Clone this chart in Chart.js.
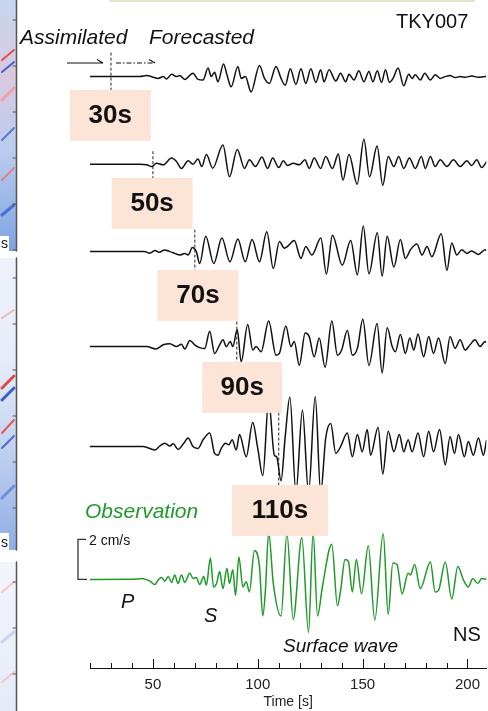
<!DOCTYPE html>
<html lang="en">
<head>
    <meta charset="UTF-8">
    <script src="https://cdn.jsdelivr.net/npm/chart.js"></script>
    <title>TKY007 NS</title>
    <style>
        body { margin: 0; background: #fff; }
        canvas { display: block; }
    </style>
</head>
<body>
<canvas id="grafico" width="488" height="711"></canvas>
<script>
    // [time s, velocity cm/s] at the turning points
    const trace30 = [[20,0],[42,0],[43.8,0],[47,0.05],[50.2,-0.03],[52.5,-0.09],[54.9,0],[56.5,-0.12],[58.9,0.12],[61.2,0],[62.8,0.05],[65.2,-0.14],[69.1,0.17],[71.5,-0.14],[73.9,-0.17],[76.3,0.43],[77.8,0],[79.4,0.22],[81,-0.26],[83.7,0.63],[85.3,0.09],[87.3,-0.51],[90.5,0.51],[92.1,-0.09],[94.1,0],[96.8,-0.77],[100.8,0.56],[103.2,-0.09],[105.5,-0.34],[108.7,0.51],[111.1,-0.09],[113.1,-0.43],[115.5,0.39],[118.2,-0.39],[120.6,0.39],[122.9,-0.34],[125.3,0.39],[127.7,-0.29],[130,0.34],[131.6,-0.26],[134,0.34],[137.2,-0.22],[139.5,0.17],[141.9,-0.26],[143.5,0.12],[145.9,-0.17],[148.2,0.29],[150.6,-0.26],[153,0.26],[154.9,-0.26],[157,0.29],[159,-0.29],[160.9,0.34],[162.8,-0.29],[164.5,-0.09],[166.9,0.43],[169.6,-0.46],[172,0.12],[173.6,-0.09],[175.1,0.09],[177.5,-0.17],[179.6,0.17],[182.3,-0.17],[184.6,0.09],[187,-0.09],[189.4,0],[191.7,0.05],[194.1,-0.05],[196.5,0],[198.9,-0.03],[202,0.03],[205.2,-0.03],[208.4,0],[209,0]];
    const trace50 = [[20,0],[43.8,0],[47,-0.03],[49.4,-0.12],[51.7,0.05],[54.9,-0.03],[58.9,0.31],[61.2,0.14],[63.6,-0.21],[66.8,0.17],[69.1,0],[71.5,0.26],[73.3,-0.12],[75.5,0.48],[78.5,-0.2],[83.4,0.96],[86.5,-0.63],[90.2,0.74],[93.7,-0.21],[96,0.22],[98.9,-0.12],[102,0.36],[104.7,-0.21],[107.1,0.31],[110,-0.17],[112.2,0.17],[114.2,-0.07],[116.9,0.05],[119.8,-0.03],[122.5,0.22],[124.5,-0.21],[126.9,0.31],[130,-0.21],[132.4,0.39],[135.6,-0.21],[138.4,0.51],[140.6,-0.8],[143.5,0.48],[147.4,-1.0],[150.6,1.25],[153.3,-0.63],[156.9,0.91],[159.6,-1.06],[162.2,0.39],[164.9,-0.12],[167.2,0.39],[169.6,-0.21],[172.3,0.31],[175.1,-0.21],[178,0.39],[179.9,-0.21],[182.3,0.39],[184.6,-0.12],[187,0.22],[190.2,-0.12],[193.3,0.22],[196.5,-0.12],[199.7,0.17],[202,-0.07],[204.4,0.22],[206.8,-0.17],[209.2,0.14]];
    const trace70 = [[20,0],[46,0],[48.5,-0.08],[51,0.05],[53,-0.03],[55.5,0.08],[58.1,0],[60.4,-0.09],[62.8,-0.17],[65.2,-0.09],[66.8,-0.17],[68.8,0.21],[70.7,0],[72.3,-0.6],[75.2,0.77],[79,-0.6],[82.9,0.68],[86.7,-0.51],[90.5,0.63],[94,-0.51],[97.3,0.6],[100.8,-0.51],[104.3,0.99],[107.4,-0.85],[110.3,0.51],[112.7,0.17],[114.2,0.26],[117.4,0.55],[120.6,-0.34],[122.9,0.26],[125.8,-0.17],[130.1,0.68],[132.7,-1.12],[135.6,0.82],[140.3,-0.68],[144.3,0.55],[147.5,-1.16],[150.3,1.28],[153,-1.11],[157,0.94],[159.3,-1.23],[161.7,0.77],[164.9,-0.77],[168,0.6],[170.4,-0.34],[172.8,0.09],[175.9,0.38],[178.3,-0.17],[180.7,0.26],[183,-0.26],[187.5,0.89],[190.2,-0.94],[192.5,0.43],[194.9,-0.17],[197.3,0.09],[199.7,-0.09],[202,0.03],[205.2,-0.14],[208.4,0.09],[209,0.05]];
    const trace90 = [[20,0],[47,0],[51.4,-0.12],[54.9,0.09],[58.1,0.14],[61.2,0],[63.6,0.12],[65.2,-0.12],[67.6,0.31],[69.9,0.09],[72.3,-0.05],[74.7,-0.1],[77.1,0.77],[79.4,-0.34],[81.8,0.09],[83.4,0.34],[85,0],[86.9,0.26],[88.1,0],[90.2,0.85],[92.1,-0.77],[95.2,1.11],[97.6,-0.17],[99.2,0],[101.6,-0.26],[105.2,1.28],[108.7,-0.43],[110.3,-0.34],[113.4,1.03],[115.8,0],[117.4,0.26],[119.8,-0.94],[122.6,0.68],[124.5,0.51],[126.9,-0.51],[129.3,0.43],[132.1,-1.03],[135.3,1.28],[138,-0.43],[140,-0.17],[142.7,0.8],[145.1,-0.43],[147.5,-0.09],[150.1,1.37],[153,-0.94],[156.9,1.15],[159.3,-1.32],[161.7,0.94],[164.1,0],[165.6,-0.26],[168,0.6],[170.4,-0.34],[172.5,0.43],[174.4,-0.17],[176.4,0.63],[179.1,-0.51],[181.5,0.51],[183.8,-0.34],[186.2,0.43],[189.4,-0.85],[191.7,0.51],[194.1,-0.09],[196.5,0.34],[198.9,-0.17],[201.2,0.09],[203.6,0.34],[206,0],[208.4,0.26],[209,0.2]];
    const trace110 = [[20,0],[45.4,0],[51,-0.17],[53.3,0.03],[55.7,0.17],[58.1,0.03],[59.7,0.14],[62,-0.14],[64.7,0.17],[66.8,0.43],[69.1,0],[71.5,-0.09],[73.9,0.34],[77.1,0.68],[79.4,-0.34],[81,-0.43],[82.6,-0.09],[84.6,0.17],[86.2,0.09],[87.8,0.34],[89.7,-0.17],[91.3,0.6],[94.5,-0.51],[97.6,1.2],[100,-0.09],[102.4,-1.45],[105.2,2.3],[107.9,-0.43],[109,-0.51],[111.1,-1.71],[113.1,0.51],[115.3,2.48],[118.2,-2.3],[121.3,1.83],[124.2,-2.3],[127.4,2.5],[130,-2.3],[132.4,0.43],[134.8,1.15],[137.2,-0.34],[139.5,0],[142.7,0.68],[145.1,-0.51],[147.5,0.6],[149.8,-0.26],[152.2,0.85],[153.8,-0.43],[157.4,0.97],[159.6,-1.37],[162.2,0.77],[164.9,-0.26],[167.5,0.6],[169.6,-0.26],[171.7,0.34],[173.6,-0.26],[176.4,0.68],[179.1,-0.51],[181.5,0.77],[183.8,-0.26],[186.7,0.85],[189.4,-0.91],[191.7,0.51],[193.8,-0.34],[195.7,0.6],[198.5,-0.51],[200.4,0.26],[202.8,-0.43],[205.2,0.43],[207.6,-0.43],[209.1,0.34]];
    const observed = [[20,0],[43,0.02],[44.5,0.04],[46.5,0],[48.6,-0.09],[50.9,-0.26],[52.5,-0.03],[54.1,0.09],[55.7,-0.09],[57.3,0.14],[58.9,-0.15],[60.4,0.22],[62,-0.2],[63.6,0.22],[65.2,-0.15],[67.6,0.31],[69.1,0.05],[70.7,0.09],[72.3,-0.26],[74.2,0.14],[75.5,-0.29],[77.4,1.07],[78.9,-0.38],[80.5,-0.15],[81.8,0.39],[83.4,-0.46],[85.3,0.56],[86.5,-0.2],[88.1,0.48],[89.4,-0.8],[91,1.12],[92.9,-0.38],[94.5,-0.12],[96,-0.63],[98.4,1.44],[100.8,0.65],[102.4,-1.83],[103.6,-0.63],[105.2,2.35],[107.4,-0.2],[111.1,-1.83],[113.9,2.3],[116.9,-2.0],[121,2.1],[124.2,-2.65],[126.4,2.35],[128.5,-1.83],[130.8,-0.38],[135.3,1.76],[138,-1.32],[139.5,-0.55],[141.6,1.0],[143.2,0.9],[145.1,-0.63],[147,1.0],[149.5,-0.72],[152.7,1.68],[155.8,-2.04],[159.8,2.3],[162.2,-1.75],[164.4,0.82],[166.4,0.74],[168.8,-0.72],[171.7,0.31],[172.8,0.22],[174.8,0.74],[177.5,-0.46],[182.3,0.87],[184.6,-0.63],[186.2,-0.55],[189.4,0.87],[192.5,-0.98],[195.4,0.65],[198.1,-0.03],[200.4,-0.38],[202.5,0.05],[204.9,-0.2],[206.8,0.05],[209.2,0]];

    const cutTimes = [30, 50, 70, 90, 110];
    const cutLabels = ['30s', '50s', '70s', '90s', '110s'];
    const tickValues = [20, 30, 40, 50, 60, 70, 80, 90, 100, 110, 120, 130, 140, 150, 160, 170, 180, 190, 200];
    const labelledTicks = [50, 100, 150, 200];
    const scaleBar = 2; // cm/s

    // vertical stacking of the traces (cm/s units on the hidden y axis)
    const traceOffsets = [29.57, 25.19, 20.82, 16.07, 11.07, 4.43];
    const cutTop = [1.2, 0.65, 1.1, 1.25, 1.7];
    const boxDx = [-0.7, -0.8, 3.1, 5.4, 1.3];
    const boxDy = [13.3, 13.7, 18.3, 15.3, 38.3];
    const boxW = [81, 81, 81, 80, 96];

    const FONT = "'Liberation Sans', Arial, sans-serif";
    const VERDE = '#1f9a2a';
    Chart.defaults.font.family = FONT;

    const series = [trace30, trace50, trace70, trace90, trace110, observed];
    const datasets = series.map((s, i) => ({
        data: s.map(p => ({ x: p[0], y: traceOffsets[i] + p[1] })),
        borderColor: i === 5 ? VERDE : '#111',
        borderWidth: 1.5,
        pointRadius: 0,
        cubicInterpolationMode: 'monotone',
        fill: false
    }));
    cutTimes.forEach((t, i) => {
        datasets.push({
            data: [{ x: t, y: traceOffsets[i] + cutTop[i] }, { x: t, y: traceOffsets[i] - 2.2 }],
            borderColor: '#222',
            borderWidth: 1,
            borderDash: [3, 2],
            pointRadius: 0
        });
    });

    function texto(ctx, s, x, y, font, cor, align) {
        ctx.font = font;
        ctx.fillStyle = cor || '#111';
        ctx.textAlign = align || 'left';
        ctx.textBaseline = 'alphabetic';
        ctx.fillText(s, x, y);
    }

    // cropped map panels on the far left
    function faixa(ctx, top, h, stops, streaks) {
        const g = ctx.createLinearGradient(0, top, 0, top + h);
        stops.forEach(s => g.addColorStop(s[0], s[1]));
        ctx.fillStyle = g;
        ctx.fillRect(0, top, 16, h);
        ctx.lineCap = 'round';
        streaks.forEach(s => {
            ctx.strokeStyle = s[2];
            ctx.lineWidth = s[3];
            ctx.beginPath();
            ctx.moveTo(2, top + s[0]);
            ctx.lineTo(14, top + s[1]);
            ctx.stroke();
        });
        ctx.strokeStyle = '#555';
        ctx.lineWidth = 1.5;
        ctx.beginPath();
        ctx.moveTo(16.5, top);
        ctx.lineTo(16.5, top + h);
        ctx.stroke();
        ctx.lineWidth = 1;
        for (let y = top + 20; y < top + h; y += 46) {
            ctx.beginPath();
            ctx.moveTo(13, y);
            ctx.lineTo(16, y);
            ctx.stroke();
        }
    }

    const decor = {
        id: 'decor',
        beforeDraw(chart) {
            const ctx = chart.ctx;
            ctx.save();
            ctx.fillStyle = '#fff';
            ctx.fillRect(0, 0, chart.width, chart.height);
            faixa(ctx, 0, 251,
                [[0, '#c7d6ef'], [0.3, '#d9c9e0'], [0.6, '#b9cdee'], [1, '#7fa3e2']],
                [[60, 50, '#e05050', 2], [72, 62, '#3f66cf', 2], [100, 88, '#f2a0a8', 3], [140, 128, '#5479d6', 2], [180, 168, '#e88080', 2], [215, 205, '#4a6fd4', 3]]);
            faixa(ctx, 258, 292,
                [[0, '#eef2fa'], [0.35, '#e6ecf8'], [0.6, '#c9d7f1'], [1, '#8eaee6']],
                [[60, 52, '#f0b8c0', 2], [130, 118, '#e04848', 3], [142, 130, '#3a5fd0', 3], [175, 162, '#e05a5a', 2], [190, 178, '#4b6ed2', 2], [240, 228, '#6d8fdc', 3]]);
            faixa(ctx, 562, 149,
                [[0, '#f3f5fb'], [0.5, '#ecf0f9'], [1, '#e4ebf7']],
                [[30, 20, '#f3c8cc', 2], [80, 70, '#c8d6f2', 3], [120, 110, '#f0c6cc', 2]]);
            [[236, 251], [533, 550]].forEach(r => {
                ctx.fillStyle = '#fff';
                ctx.fillRect(0, r[0], 9, r[1] - r[0]);
                texto(ctx, 's', 1, r[1] - 3, '14px ' + FONT, '#111');
            });
            ctx.strokeStyle = '#e6e3cc';
            ctx.lineWidth = 2;
            ctx.beginPath();
            ctx.moveTo(110, 1);
            ctx.lineTo(474, 1);
            ctx.stroke();
            ctx.restore();
        },
        afterDatasetsDraw(chart) {
            const ctx = chart.ctx;
            const xs = chart.scales.x, ys = chart.scales.y;
            ctx.save();
            // time labels covering the traces
            cutTimes.forEach((t, i) => {
                const cx = xs.getPixelForValue(t) + boxDx[i];
                const top = ys.getPixelForValue(traceOffsets[i]) + boxDy[i];
                ctx.fillStyle = '#fce4d6';
                ctx.fillRect(cx - boxW[i] / 2, top, boxW[i], 51);
                ctx.font = 'bold 26px ' + FONT;
                ctx.fillStyle = '#111';
                ctx.textAlign = 'center';
                ctx.textBaseline = 'middle';
                ctx.fillText(cutLabels[i], cx, top + 26);
            });
            // inward tick marks on the time axis
            const base = chart.chartArea.bottom;
            ctx.strokeStyle = '#111';
            ctx.lineWidth = 1;
            tickValues.forEach(v => {
                const x = Math.round(xs.getPixelForValue(v)) + 0.5;
                ctx.beginPath();
                ctx.moveTo(x, base);
                ctx.lineTo(x, base - (labelledTicks.includes(v) ? 9 : 5));
                ctx.stroke();
            });
            // arrows for assimilated / forecasted
            ctx.lineWidth = 1.1;
            ctx.beginPath();
            ctx.moveTo(67, 63); ctx.lineTo(103, 63);
            ctx.moveTo(97, 59.5); ctx.lineTo(103, 63);
            ctx.stroke();
            ctx.setLineDash([5, 2, 1.5, 2]);
            ctx.beginPath();
            ctx.moveTo(116, 63); ctx.lineTo(154, 63);
            ctx.stroke();
            ctx.setLineDash([]);
            ctx.beginPath();
            ctx.moveTo(149, 59.5); ctx.lineTo(155, 63);
            ctx.stroke();
            // 2 cm/s bracket
            const y0 = ys.getPixelForValue(traceOffsets[5]);
            const y1 = ys.getPixelForValue(traceOffsets[5] + scaleBar);
            ctx.strokeStyle = '#333';
            ctx.lineWidth = 1.3;
            ctx.beginPath();
            ctx.moveTo(86, y1); ctx.lineTo(78, y1); ctx.lineTo(78, y0); ctx.lineTo(87, y0);
            ctx.stroke();
            texto(ctx, scaleBar + ' cm/s', 89, y1 + 6, '14px ' + FONT, '#111');
            // annotations
            texto(ctx, 'Assimilated', 20, 43.5, 'italic 21px ' + FONT);
            texto(ctx, 'Forecasted', 149, 43.5, 'italic 21px ' + FONT);
            texto(ctx, 'TKY007', 396, 28, '20px ' + FONT);
            texto(ctx, 'Observation', 85, 518, 'italic 21px ' + FONT, VERDE);
            texto(ctx, 'P', 121, 608, 'italic 20px ' + FONT);
            texto(ctx, 'S', 204, 622, 'italic 20px ' + FONT);
            texto(ctx, 'Surface wave', 283, 652, 'italic 19px ' + FONT);
            texto(ctx, 'NS', 453, 641, '20px ' + FONT);
            ctx.restore();
        }
    };

    new Chart(document.getElementById('grafico'), {
        type: 'line',
        data: { datasets: datasets },
        options: {
            responsive: false,
            animation: false,
            layout: { padding: { left: 90, right: 0, top: 0, bottom: 0 } },
            plugins: { legend: { display: false }, tooltip: { enabled: false } },
            scales: {
                x: {
                    type: 'linear',
                    min: 20,
                    max: 209,
                    afterBuildTicks: s => { s.ticks = tickValues.map(v => ({ value: v })); },
                    afterFit: s => { s.height = 43; },
                    grid: { display: false, drawTicks: false },
                    border: { display: true, color: '#111', width: 1 },
                    ticks: {
                        autoSkip: false,
                        maxRotation: 0,
                        padding: 8,
                        color: '#222',
                        font: { size: 15 },
                        callback: v => labelledTicks.includes(v) ? String(v) : ''
                    },
                    title: { display: true, text: 'Time [s]', color: '#222', font: { size: 14 }, padding: { top: 2, bottom: 0 } }
                },
                y: { display: false, min: 0, max: 33.4 }
            }
        },
        plugins: [decor]
    });
</script>
</body>
</html>
